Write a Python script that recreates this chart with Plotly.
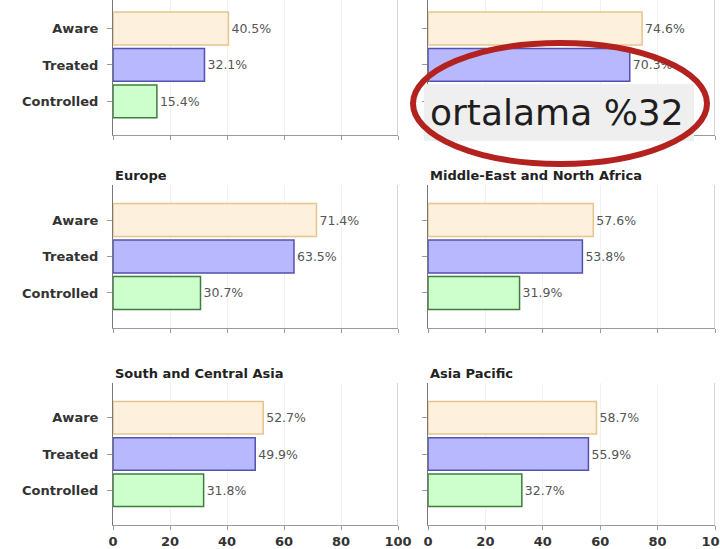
import plotly.graph_objects as go

categories = ["Aware", "Treated", "Controlled"]
panel_titles = ["", "", "Europe", "Middle-East and North Africa", "South and Central Asia", "Asia Pacific"]
aware = [40.5, 74.6, 71.4, 57.6, 52.7, 58.7]
treated = [32.1, 70.3, 63.5, 53.8, 49.9, 55.9]
controlled = [15.4, 43.0, 30.7, 31.9, 31.8, 32.7]
# the reference hides this panel's "Controlled" bar behind the note box
hidden_label = [(1, 2)]
x_ticks = [0, 20, 40, 60, 80, 100]
note_text = "ortalama %32"

fills = ["#fdf0dc", "#b8b8ff", "#ccffcc"]
edges = ["#e6c48e", "#5252b0", "#3f7d3f"]

W, H = 720, 549
def px(x):
    return x / W
def py(y):
    return 1 - y / H

xdom = [(113, 398), (428, 715)]
ydom = [(0, 135), (185, 328), (383, 525)]
yranges = [[2.92, -0.78], [2.96, -0.96], [2.96, -0.96]]
title_y = [None, 175, 373]

FONT = "DejaVu Sans, Verdana, sans-serif"

fig = go.Figure()
layout = {}
annotations = []
shapes = []
for i in range(6):
    r, c = divmod(i, 2)
    n = i + 1
    sfx = "" if n == 1 else str(n)
    vals = [aware[i], treated[i], controlled[i]]
    labels = ["" if (i, k) in hidden_label else f"{v:.1f}%" for k, v in enumerate(vals)]
    fig.add_trace(go.Bar(
        x=vals,
        y=categories,
        orientation="h",
        xaxis="x" + sfx, yaxis="y" + sfx,
        width=0.9,
        marker=dict(color=fills, line=dict(color=edges, width=1.5)),
        text=labels,
        texttemplate="%{text}",
        textposition="outside",
        constraintext="none",
        textfont=dict(size=12.5, color="#555555", family=FONT),
        cliponaxis=False,
        showlegend=False,
        hoverinfo="skip",
    ))
    x0, x1 = xdom[c]
    y0, y1 = ydom[r]
    layout["xaxis" + sfx] = dict(
        domain=[px(x0), px(x1)], range=[0, 100], anchor="y" + sfx,
        showline=True, linecolor="#9a9a9a", linewidth=1,
        ticks="outside", ticklen=4, tickcolor="#9a9a9a",
        tickvals=x_ticks, showticklabels=(r == 2),
        tickfont=dict(size=13, color="#333333", family=FONT, weight="bold"),
        ticklabeloverflow="allow",
        showgrid=True, gridcolor="#f1f1f1", zeroline=False, fixedrange=True,
        automargin=False,
    )
    layout["yaxis" + sfx] = dict(
        domain=[py(y1), py(y0)], range=yranges[r], anchor="x" + sfx,
        type="category", categoryorder="array", categoryarray=categories,
        showline=True, linecolor="#777777", linewidth=1,
        ticks="outside", ticklen=5, tickcolor="#9a9a9a",
        ticklabelstandoff=6,
        showticklabels=(c == 0),
        tickfont=dict(size=13, color="#333333", family=FONT, weight="bold"),
        showgrid=False, zeroline=False, fixedrange=True,
        automargin=False,
    )
    shapes.append(dict(type="line", xref="x" + sfx, yref="y" + sfx + " domain",
                       x0=100, x1=100, y0=0, y1=1,
                       line=dict(color="#aaaaaa", width=1), layer="above"))
    if panel_titles[i] and title_y[r] is not None:
        annotations.append(dict(text="<b>" + panel_titles[i] + "</b>", xref="paper", yref="paper",
                                x=px(x0), y=py(title_y[r]), xanchor="left", yanchor="middle",
                                showarrow=False, font=dict(size=13, color="#222222", family=FONT)))

# overlay note box and red ellipse
shapes.append(dict(type="rect", xref="paper", yref="paper",
                   x0=px(424), x1=px(694), y0=py(141), y1=py(84),
                   fillcolor="#efefef", line=dict(width=0), layer="above"))
shapes.append(dict(type="circle", xref="paper", yref="paper",
                   x0=px(413), x1=px(707), y0=py(164), y1=py(43),
                   line=dict(color="#b3221f", width=6), fillcolor="rgba(0,0,0,0)", layer="above"))
annotations.append(dict(text=note_text, xref="paper", yref="paper",
                        x=px(557), y=py(113), xanchor="center", yanchor="middle",
                        showarrow=False, font=dict(size=36, color="#1e1e1e", family="DejaVu Sans")))

fig.update_layout(
    width=W, height=H,
    margin=dict(l=0, r=0, t=0, b=0, autoexpand=False),
    paper_bgcolor="white", plot_bgcolor="white",
    bargap=0.1,
    annotations=annotations, shapes=shapes,
    **layout,
)
fig.write_html("out.html")
